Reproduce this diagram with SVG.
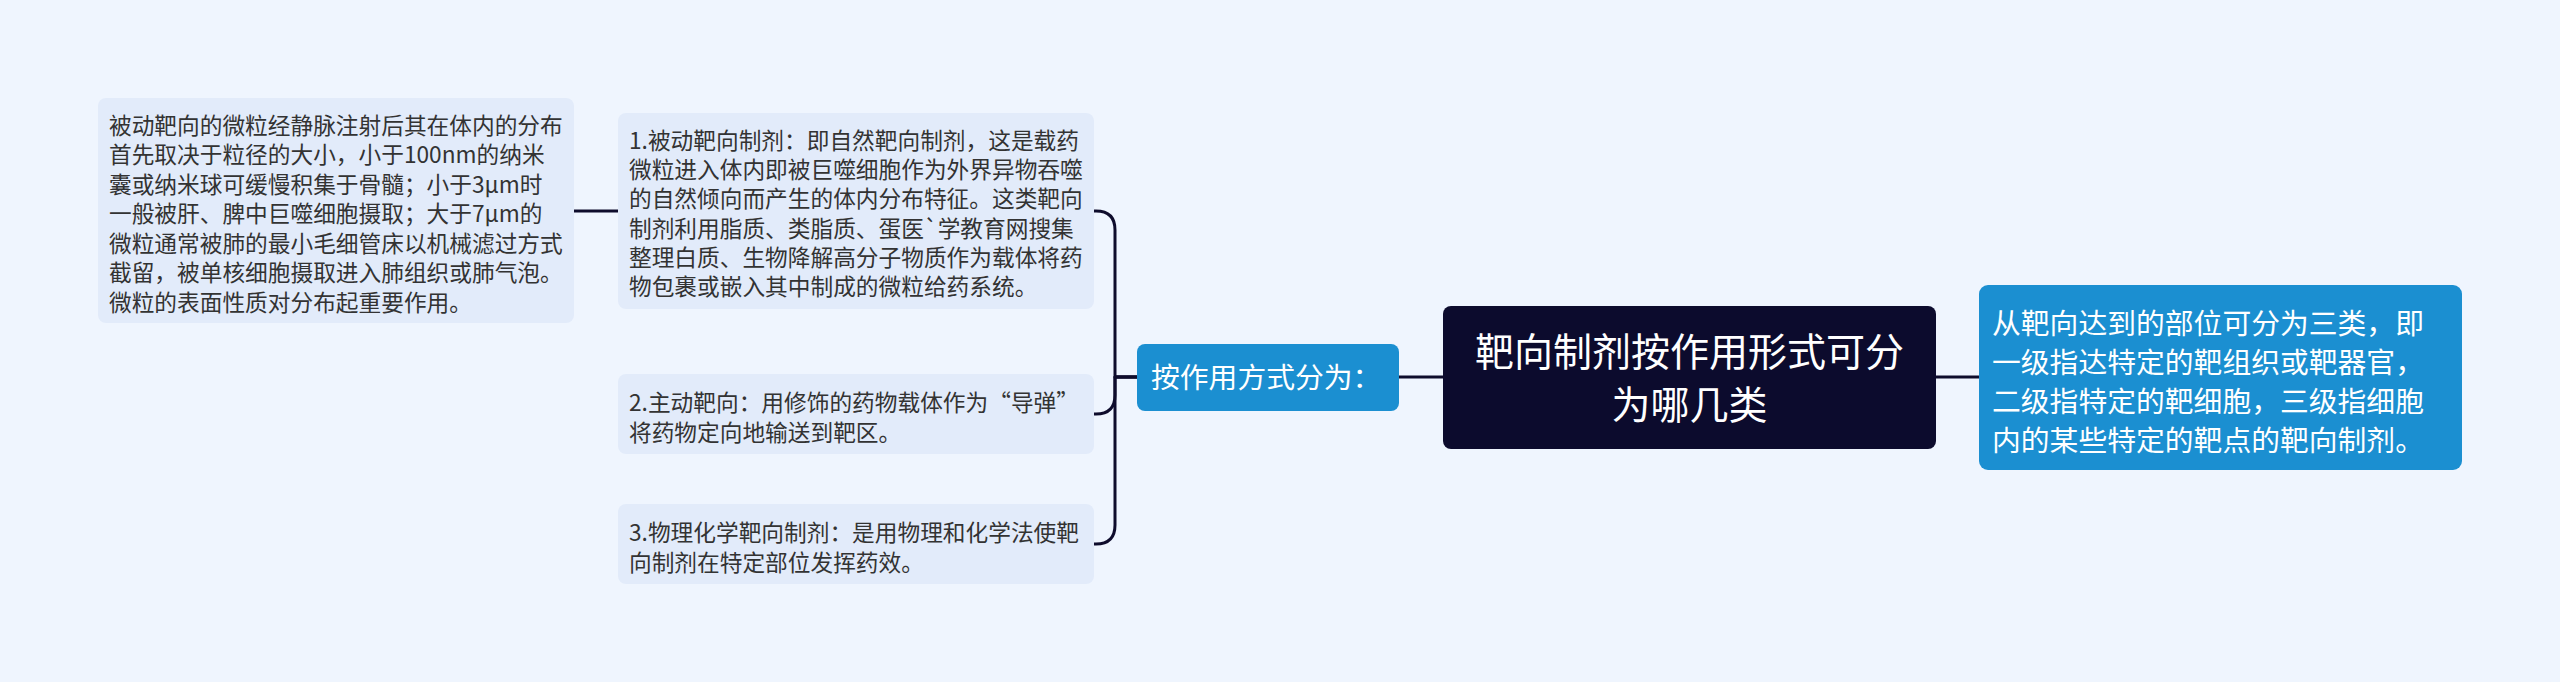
<svg xmlns="http://www.w3.org/2000/svg" width="2560" height="682" viewBox="0 0 2560 682">
<style>
.bg{fill:#eff5fe}
.leaf{fill:#e2ebfa}
.blue{fill:#1b8fd1}
.root{fill:#0c0b2d}
.t{font-family:"Noto Sans CJK SC","Noto Sans",sans-serif;font-size:22.7px;fill:#333333}
.tb{font-family:"Noto Sans CJK SC","Noto Sans",sans-serif;font-size:28.8px;fill:#ffffff}
.tr{font-family:"Noto Sans CJK SC","Noto Sans",sans-serif;font-size:39px;fill:#ffffff;text-anchor:middle}
.c{fill:none;stroke:#0e0c2c;stroke-width:3;stroke-linecap:round;stroke-linejoin:round}
</style>
<rect class="bg" x="0" y="0" width="2560" height="682"/>
<g id="connectors">
<path class="c" d="M618,211 H574"/>
<path class="c" d="M1137,377 H1115 V230 Q1115,211 1096,211 H1094"/>
<path class="c" d="M1137,377 H1115 V395 Q1115,414 1096,414 H1094"/>
<path class="c" d="M1137,377 H1115 V525 Q1115,544 1096,544 H1094"/>
<path class="c" d="M1399,377 H1443"/>
<path class="c" d="M1936,377 H1979"/>
</g>
<g id="node-root">
<rect class="root" x="1443" y="306" width="493" height="143" rx="8"/>
<text class="tr" x="1689.5" y="365.8">靶向制剂按作用形式可分</text>
<text class="tr" x="1689.5" y="419.3">为哪几类</text>
</g>
<g id="node-levels">
<rect class="blue" x="1979" y="285" width="483" height="185" rx="9"/>
<text class="tb" x="1992" y="333.6">从靶向达到的部位可分为三类，即</text>
<text class="tb" x="1992" y="372.8">一级指达特定的靶组织或靶器官，</text>
<text class="tb" x="1992" y="412">二级指特定的靶细胞，三级指细胞</text>
<text class="tb" x="1992" y="451.2">内的某些特定的靶点的靶向制剂。</text>
</g>
<g id="node-mode">
<rect class="blue" x="1137" y="344" width="262" height="67" rx="8"/>
<text class="tb" x="1151" y="388">按作用方式分为：</text>
</g>
<g id="node-passive">
<rect class="leaf" x="618" y="113" width="476" height="196" rx="8"/>
<text class="t" x="629" y="149">1.被动靶向制剂：即自然靶向制剂，这是载药</text>
<text class="t" x="629" y="178.2">微粒进入体内即被巨噬细胞作为外界异物吞噬</text>
<text class="t" x="629" y="207.4">的自然倾向而产生的体内分布特征。这类靶向</text>
<text class="t" x="629" y="236.6">制剂利用脂质、类脂质、蛋医`学教育网搜集</text>
<text class="t" x="629" y="265.8">整理白质、生物降解高分子物质作为载体将药</text>
<text class="t" x="629" y="295">物包裹或嵌入其中制成的微粒给药系统。</text>
</g>
<g id="node-passive-detail">
<rect class="leaf" x="98" y="98" width="476" height="225" rx="8"/>
<text class="t" x="109" y="133.6">被动靶向的微粒经静脉注射后其在体内的分布</text>
<text class="t" x="109" y="163.1">首先取决于粒径的大小，小于100nm的纳米</text>
<text class="t" x="109" y="192.6">囊或纳米球可缓慢积集于骨髓；小于3μm时</text>
<text class="t" x="109" y="222.1">一般被肝、脾中巨噬细胞摄取；大于7μm的</text>
<text class="t" x="109" y="251.6">微粒通常被肺的最小毛细管床以机械滤过方式</text>
<text class="t" x="109" y="281.1">截留，被单核细胞摄取进入肺组织或肺气泡。</text>
<text class="t" x="109" y="310.6">微粒的表面性质对分布起重要作用。</text>
</g>
<g id="node-active">
<rect class="leaf" x="618" y="374" width="476" height="80" rx="8"/>
<text class="t" x="629" y="411">2.主动靶向：用修饰的药物载体作为“导弹”</text>
<text class="t" x="629" y="440.5">将药物定向地输送到靶区。</text>
</g>
<g id="node-physchem">
<rect class="leaf" x="618" y="504" width="476" height="80" rx="8"/>
<text class="t" x="629" y="541">3.物理化学靶向制剂：是用物理和化学法使靶</text>
<text class="t" x="629" y="570.5">向制剂在特定部位发挥药效。</text>
</g>
</svg>
